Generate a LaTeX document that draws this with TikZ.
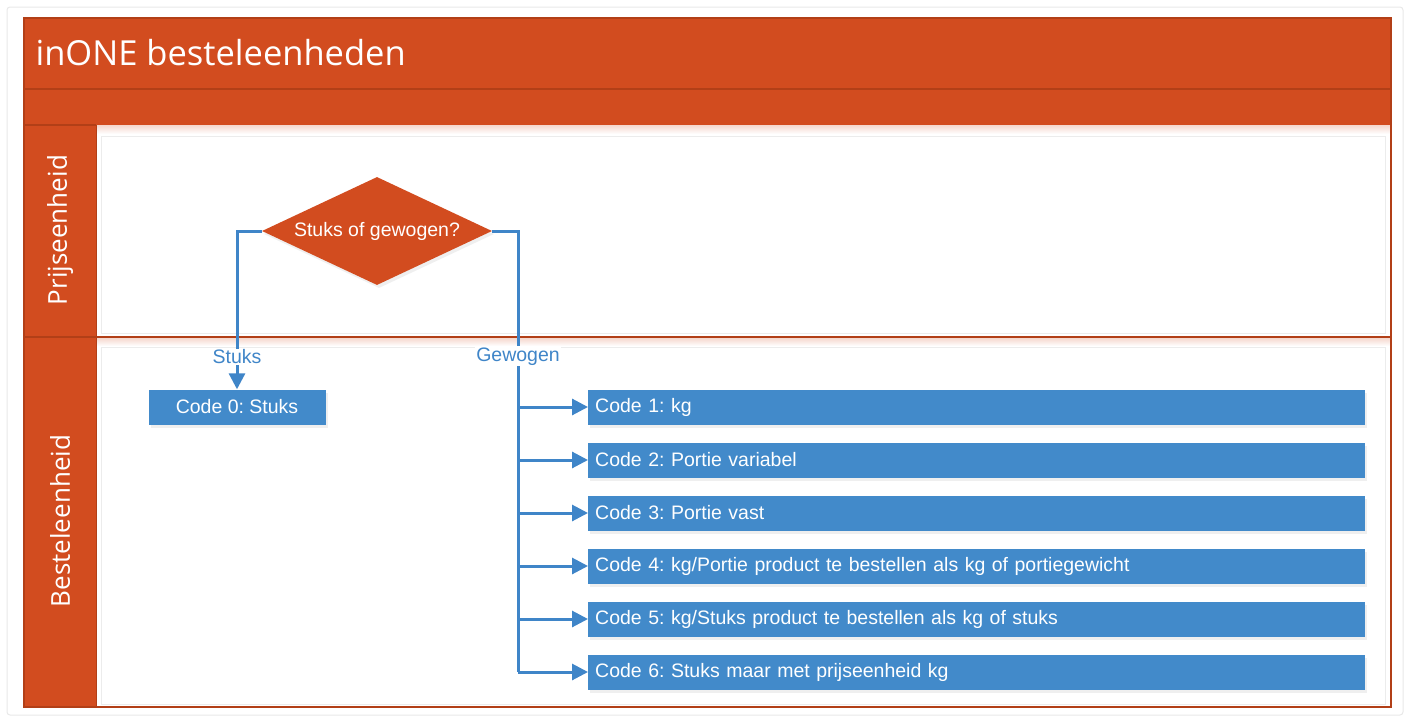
\documentclass[tikz,border=0pt]{standalone}
\usepackage{fontspec}
\setmainfont{Liberation Sans}
\newfontfamily\titlefont{Open Sans}
\usetikzlibrary{shapes.geometric,arrows.meta,shadows}
\definecolor{lane}{HTML}{D24C1F}
\definecolor{laneline}{HTML}{B23F17}
\definecolor{boxblue}{HTML}{428ACA}
\definecolor{lineblue}{HTML}{3F85C8}
\frenchspacing
\tikzset{
  codebox/.style={fill=boxblue, draw=none, text=white, minimum height=35pt, inner ysep=0pt,
    font=\fontsize{19.5}{21}\selectfont,
    drop shadow={opacity=0.12, shadow xshift=2pt, shadow yshift=-3pt}},
  widebox/.style={codebox, text width=763pt, inner xsep=7pt, align=left, anchor=west},
  decision/.style={diamond, fill=lane, draw=none, text=white, aspect=2.13, inner sep=0pt,
    minimum width=230pt, minimum height=108pt, font=\fontsize{19.5}{21}\selectfont,
    drop shadow={opacity=0.12, shadow xshift=2pt, shadow yshift=-3pt}},
  flow/.style={draw=lineblue, line width=3pt},
  flowarrow/.style={flow, -{Triangle[length=16pt,width=16pt]}},
  lbl/.style={fill=white, text=lineblue, inner sep=1pt, font=\fontsize{19.5}{21}\selectfont},
  lanetitle/.style={text=white, rotate=90, font=\titlefont\fontsize{26}{28}\selectfont},
}
\begin{document}
\begin{tikzpicture}[x=1pt,y=-1pt]
\useasboundingbox (0,0) rectangle (1409,720);
% outer frame
\draw[gray!18, line width=1pt, rounded corners=3pt] (7,7) rectangle (1403,715);
% pool
\fill[lane] (24,18) rectangle (1391,707);
\fill[white] (96,125) rectangle (1390,706);
\shade[top color=lane!22, bottom color=white] (96,125) rectangle (1390,134);
\shade[top color=lane!22, bottom color=white] (96,338) rectangle (1390,346);
\draw[laneline, line width=1.5pt] (24,18) rectangle (1391,707);
\draw[laneline, line width=1.2pt] (24,89) -- (1391,89);
\draw[laneline, line width=1.2pt] (24,125) -- (96,125);
\draw[laneline, line width=2pt] (24,337) -- (1391,337);
\draw[laneline, line width=1pt] (96,125) -- (96,707);
\draw[gray!15, line width=0.8pt] (101,136) rectangle (1385,333);
\draw[gray!15, line width=0.8pt] (101,347) rectangle (1385,704);
% titles
\node[text=white, anchor=west, font=\titlefont\fontsize{34.5}{36}\selectfont] (title) at (32,53) {inONE besteleenheden};
\node[lanetitle] (lane1) at (60,230) {Prijseenheid};
\node[lanetitle] (lane2) at (60,521) {Besteleenheid};
% nodes
\node[decision] (d) at (377,231) {Stuks of gewogen?};
\node[codebox, minimum width=177pt] (c0) at (237,407) {Code 0: Stuks};
\node[widebox] (c1) at (588,407) {Code 1: kg};
\node[widebox] (c2) at (588,460) {Code 2: Portie variabel};
\node[widebox] (c3) at (588,513) {Code 3: Portie vast};
\node[widebox] (c4) at (588,566) {Code 4: kg/Portie product te bestellen als kg of portiegewicht};
\node[widebox] (c5) at (588,619) {Code 5: kg/Stuks product te bestellen als kg of stuks};
\node[widebox] (c6) at (588,672) {Code 6: Stuks maar met prijseenheid kg};
\coordinate (trunk) at (518,231);
% connectors
\draw[flowarrow] (d.west) -| node[lbl, pos=0.897] (ls) {Stuks} (c0.north);
\draw[flow] (d.east) -| node[lbl, pos=0.642] (lg) {Gewogen} (c6.west -| trunk);
\foreach \i in {1,...,6}{
  \draw[flowarrow] (c\i.west -| trunk) -- (c\i.west);
}
\end{tikzpicture}
\end{document}
